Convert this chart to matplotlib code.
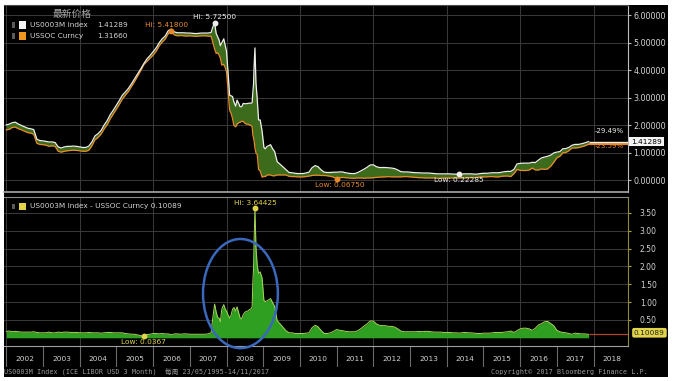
import numpy as np
import pandas as pd
import matplotlib
matplotlib.use("Agg")
import matplotlib.pyplot as plt
from matplotlib.patches import Rectangle, Ellipse
from matplotlib.transforms import blended_transform_factory

# ---------------- data ----------------
dates_a = pd.date_range("2002-01-01", "2007-07-01", freq="MS")
libor_a = [2.02, 2.05, 2.10, 2.12, 2.05, 2.00, 1.95, 1.90, 1.88, 1.85, 1.50, 1.45,
           1.44, 1.42, 1.40, 1.40, 1.38, 1.22, 1.18, 1.22, 1.24, 1.24, 1.25, 1.24,
           1.22, 1.20, 1.20, 1.25, 1.40, 1.62, 1.70, 1.82, 2.02, 2.18, 2.40, 2.56,
           2.74, 2.92, 3.10, 3.22, 3.35, 3.52, 3.70, 3.88, 4.06, 4.25, 4.42, 4.54,
           4.68, 4.82, 5.00, 5.15, 5.25, 5.45, 5.50, 5.40, 5.37, 5.37, 5.37, 5.36,
           5.36, 5.35, 5.34, 5.35, 5.36, 5.36, 5.36]
ois_a = [1.84, 1.86, 1.93, 1.94, 1.88, 1.84, 1.79, 1.74, 1.72, 1.68, 1.35, 1.31,
         1.30, 1.28, 1.24, 1.26, 1.24, 1.06, 1.03, 1.06, 1.08, 1.09, 1.10, 1.09,
         1.08, 1.06, 1.06, 1.10, 1.26, 1.48, 1.56, 1.69, 1.88, 2.03, 2.25, 2.42,
         2.60, 2.78, 2.96, 3.10, 3.24, 3.42, 3.60, 3.80, 4.00, 4.2133, 4.33, 4.44,
         4.56, 4.70, 4.89, 5.03, 5.14, 5.34, 5.418, 5.29, 5.26, 5.27, 5.26, 5.25,
         5.26, 5.25, 5.24, 5.25, 5.26, 5.26, 5.25]

dates_b = ["2007-08-01", "2007-08-15", "2007-09-05", "2007-09-20", "2007-10-05", "2007-10-20",
           "2007-11-01", "2007-11-15", "2007-12-05", "2007-12-20", "2008-01-01", "2008-01-15",
           "2008-02-01", "2008-02-15", "2008-03-01", "2008-03-15", "2008-04-01", "2008-04-15",
           "2008-05-01", "2008-05-15", "2008-06-01", "2008-06-15", "2008-07-01", "2008-07-15",
           "2008-08-01", "2008-08-15", "2008-09-01", "2008-09-12", "2008-09-19", "2008-09-26",
           "2008-10-01", "2008-10-10", "2008-10-20", "2008-11-01", "2008-11-15", "2008-12-01",
           "2008-12-20", "2009-01-08", "2009-01-22", "2009-02-08", "2009-02-22", "2009-03-15",
           "2009-04-05", "2009-04-25", "2009-05-20", "2009-06-15", "2009-07-15", "2009-08-15",
           "2009-09-15", "2009-10-15", "2009-11-15", "2009-12-15"]
libor_b = [5.38, 5.55, 5.725, 5.35, 5.22, 5.10, 4.90, 5.00, 5.15, 4.90, 4.70, 4.00,
           3.10, 3.08, 3.05, 2.85, 2.70, 2.92, 2.80, 2.68, 2.68, 2.80, 2.79, 2.79,
           2.80, 2.81, 2.81, 2.82, 3.20, 3.50, 4.10, 4.82, 3.55, 3.00, 2.20, 2.20,
           1.80, 1.20, 1.15, 1.24, 1.26, 1.30, 1.15, 1.05, 0.68, 0.60, 0.50, 0.40,
           0.29, 0.28, 0.26, 0.25]
ois_b = [5.24, 5.05, 4.78, 4.62, 4.65, 4.55, 4.45, 4.20, 4.22, 4.10, 3.95, 3.35,
         2.55, 2.45, 2.25, 2.00, 1.95, 2.05, 2.10, 2.12, 2.15, 2.15, 2.08, 2.05,
         2.05, 2.02, 2.00, 1.95, 1.65, 1.55, 1.45, 1.17575, 1.00, 0.95, 0.40, 0.35,
         0.12, 0.15, 0.14, 0.20, 0.20, 0.20, 0.17, 0.17, 0.20, 0.20, 0.20, 0.20,
         0.15, 0.14, 0.14, 0.13]

dates_c = list(pd.date_range("2010-01-01", "2017-10-01", freq="MS")) + [pd.Timestamp("2017-11-14")]
libor_c = [0.25, 0.25, 0.27, 0.30, 0.46, 0.54, 0.50, 0.38, 0.30, 0.29, 0.29, 0.30,
           0.30, 0.31, 0.31, 0.28, 0.26, 0.25, 0.25, 0.29, 0.35, 0.41, 0.48, 0.56,
           0.57, 0.50, 0.47, 0.47, 0.47, 0.46, 0.45, 0.43, 0.38, 0.32, 0.31, 0.31,
           0.30, 0.29, 0.28, 0.28, 0.27, 0.27, 0.27, 0.26, 0.25, 0.24, 0.24, 0.24,
           0.24, 0.24, 0.23, 0.23, 0.22285, 0.23, 0.24, 0.24, 0.24, 0.23, 0.23, 0.25,
           0.26, 0.26, 0.27, 0.28, 0.28, 0.28, 0.30, 0.32, 0.33, 0.33, 0.40, 0.60,
           0.62, 0.63, 0.63, 0.63, 0.66, 0.65, 0.74, 0.82, 0.85, 0.88, 0.92, 1.00,
           1.03, 1.05, 1.15, 1.16, 1.20, 1.28, 1.31, 1.31, 1.33, 1.36, 1.41289]
ois_c = [0.13, 0.13, 0.14, 0.16, 0.18, 0.19, 0.19, 0.18, 0.18, 0.17, 0.15, 0.12,
         0.0675, 0.10, 0.11, 0.10, 0.09, 0.08, 0.08, 0.09, 0.09, 0.08, 0.09, 0.09,
         0.10, 0.11, 0.12, 0.13, 0.13, 0.14, 0.13, 0.13, 0.13, 0.13, 0.14, 0.14,
         0.13, 0.12, 0.11, 0.10, 0.10, 0.09, 0.09, 0.09, 0.09, 0.08, 0.08, 0.09,
         0.09, 0.09, 0.09, 0.09, 0.09, 0.09, 0.09, 0.10, 0.10, 0.10, 0.11, 0.13,
         0.13, 0.13, 0.14, 0.14, 0.13, 0.13, 0.15, 0.16, 0.16, 0.14, 0.25, 0.40,
         0.37, 0.36, 0.36, 0.38, 0.45, 0.38, 0.38, 0.42, 0.40, 0.42, 0.52, 0.66,
         0.82, 0.88, 1.00, 1.02, 1.08, 1.18, 1.18, 1.19, 1.22, 1.25, 1.3166]

year_labels = list(range(2002, 2019))
top_ticks = [0, 1, 2, 3, 4, 5, 6]
bottom_ticks = [0.5, 1.0, 1.5, 2.0, 2.5, 3.0, 3.5]
legend_names = ["US0003M Index", "USSOC Curncy"]
legend_values = ["1.41289", "1.31660"]
spread_name = "US0003M Index - USSOC Curncy 0.10089"
spread_last = 0.10089
pct_changes = ["-29.49%", "-23.59%"]


def dec_year(dates):
    d = pd.to_datetime(pd.Series(list(dates)))
    return (d.dt.year + (d.dt.dayofyear - 1) / 365.25).to_numpy()


x = np.concatenate([dec_year(dates_a), dec_year(dates_b), dec_year(dates_c)])
libor = np.array(libor_a + libor_b + libor_c)
ois = np.array(ois_a + ois_b + ois_c)
spread = libor - ois

# ---------------- layout ----------------
W, H = 674, 381
def fx(p): return p / W
def fy(p): return 1 - p / H

XL = (2001.937, 2018.94)
C_WHITE = "#eeeeea"
C_ORANGE = "#e8892b"
C_YELLOW = "#e2d44a"
C_GRID = "#3a3a3a"
C_TXT = "#d4d4d4"

fig = plt.figure(figsize=(6.74, 3.81), dpi=100)
fig.patch.set_facecolor("white")
fig.add_artist(Rectangle((fx(4), fy(377)), fx(668) - fx(4), fy(5) - fy(377),
                         transform=fig.transFigure, facecolor="black",
                         edgecolor="none", zorder=-10))

ax1 = fig.add_axes([fx(4), fy(192), (628 - 4) / W, (192 - 5) / H])
ax2 = fig.add_axes([fx(4), fy(346), (628 - 4) / W, (346 - 197) / H])
ax3 = fig.add_axes([fx(4), fy(367), (628 - 4) / W, (367 - 347) / H])
ax2.set_zorder(2)
ax3.set_zorder(1)

for ax in (ax1, ax2, ax3):
    ax.set_facecolor("black")
    ax.set_xlim(*XL)
    for s in ax.spines.values():
        s.set_visible(False)

even_years = [y for y in year_labels if y % 2 == 0]

# ---- top panel ----
ax1.set_ylim(-0.42, 6.38)
ax1.fill_between(x, ois, libor, color="#3d6b1c", lw=0, zorder=2)
ax1.plot(x, ois, color=C_ORANGE, lw=0.9, zorder=3)
ax1.plot(x, libor, color=C_WHITE, lw=0.9, zorder=4)
ax1.set_yticks(top_ticks)
ax1.set_yticklabels([f"{v:.5f}" for v in top_ticks])
ax1.yaxis.tick_right()
ax1.tick_params(axis="y", length=2.5, width=0.8, color="#bbbbbb", pad=1.5,
                labelsize=5.8, labelcolor=C_TXT)
ax1.set_xticks(even_years)
ax1.tick_params(axis="x", length=0, labelbottom=False)
ax1.grid(True, color=C_GRID, lw=0.7, zorder=0)
ax1.spines["right"].set_visible(True)
ax1.spines["right"].set_color("#bdbdbd")
ax1.spines["bottom"].set_visible(True)
ax1.spines["bottom"].set_color("#a8a8a8")
ax1.spines["bottom"].set_linewidth(1.2)
ax1.spines["top"].set_visible(True)
ax1.spines["top"].set_color("#4a4a4a")

x_last = x[-1]
ax1.hlines(libor[-1], x_last, XL[1], color=C_WHITE, lw=1.0, zorder=4)
ax1.hlines(ois[-1], x_last, XL[1], color=C_ORANGE, lw=1.6, zorder=3)


def mark(ax, xv, yv, color, label, dx, dy):
    ax.plot([xv], [yv], "o", ms=3.2, color=color, zorder=8, clip_on=False)
    ax.annotate(label, (xv, yv), xytext=(dx, dy), textcoords="offset points",
                ha="center", va="center", color=color, fontsize=5.3, zorder=9,
                annotation_clip=False)


i = int(np.argmax(libor)); mark(ax1, x[i], libor[i], C_WHITE, f"Hi: {libor[i] + 1e-9:.5f}", 0, 4)
i = int(np.argmax(ois)); mark(ax1, x[i], ois[i], C_ORANGE, f"Hi: {ois[i] + 1e-9:.5f}", -3.5, 4.5)
i = int(np.argmin(libor)); mark(ax1, x[i], libor[i], C_WHITE, f"Low: {libor[i] + 1e-9:.5f}", 0, -4)
i = int(np.argmin(ois)); mark(ax1, x[i], ois[i], C_ORANGE, f"Low: {ois[i] + 1e-9:.5f}", 2, -4.5)

# percentage labels near the end
tr1 = blended_transform_factory(fig.transFigure, ax1.transData)
fig.text(fx(624), 1.80, pct_changes[0], transform=tr1, ha="right", va="center",
         color=C_WHITE, fontsize=5.0)
fig.text(fx(624), 1.25, pct_changes[1], transform=tr1, ha="right", va="center",
         color=C_ORANGE, fontsize=5.0)
fig.text(fx(631), libor[-1], legend_values[0], transform=tr1, ha="left", va="center",
         color="black", fontsize=5.3,
         bbox=dict(boxstyle="square,pad=0.25", facecolor="#f4f4f4", edgecolor="none"))

# ---- bottom panel ----
ax2.set_ylim(-0.23, 3.947)
ax2.fill_between(x, 0, spread, color="#2f9f22", lw=0, zorder=2)
ax2.plot(x, spread, color="#a9d45a", lw=0.7, zorder=3)
ax2.set_yticks(bottom_ticks)
ax2.set_yticklabels([f"{v:.2f}" for v in bottom_ticks])
ax2.yaxis.tick_right()
ax2.tick_params(axis="y", length=2.5, width=0.8, color="#b0a640", pad=6,
                labelsize=5.5, labelcolor=C_TXT)
ax2.set_xticks(even_years)
ax2.tick_params(axis="x", length=0, labelbottom=False)
ax2.grid(True, color=C_GRID, lw=0.7, zorder=0)
ax2.spines["right"].set_visible(True)
ax2.spines["right"].set_color("#8f8a3a")
ax2.spines["top"].set_visible(True)
ax2.spines["top"].set_color("#8a8a8a")
ax2.spines["bottom"].set_visible(True)
ax2.spines["bottom"].set_color("#a0a0a0")
ax2.hlines(spread_last, x_last, XL[1], color="#b0452a", lw=0.9, zorder=4)

i = int(np.argmax(spread)); mark(ax2, x[i], spread[i], C_YELLOW, f"Hi: {spread[i] + 1e-9:.5f}", 0, 3.8)
i = int(np.argmin(spread)); mark(ax2, x[i], spread[i], C_YELLOW, f"Low: {spread[i] + 1e-9:.4f}", 0, -4)

tr2 = blended_transform_factory(fig.transFigure, ax2.transData)
fig.text(fx(634), spread_last + 0.04, f"{spread_last:.5f}", transform=tr2, ha="left",
         va="center", color="#222222", fontsize=5.3,
         bbox=dict(boxstyle="round,pad=0.25", facecolor=C_YELLOW, edgecolor="none"))

ax2.add_patch(Ellipse((2008.38, 1.24), 2.04, 3.06, fill=False, edgecolor="#3a68bd",
                      lw=1.8, zorder=7, clip_on=False))

# ---- year row ----
ax3.set_ylim(0, 1)
ax3.set_xticks([])
ax3.set_yticks([])
for y in year_labels:
    ax3.axvline(y, color="#6a6a6a", lw=0.8)
    ax3.text(y + 0.5, 0.42, str(y), ha="center", va="center", color=C_TXT, fontsize=5.3)

# ---- legends ----
fig.text(fx(72), fy(14), "最新价格", ha="center", va="center", color="#a8a8a8",
         fontsize=7, family=["Noto Sans CJK SC", "DejaVu Sans"])
for k, (name, val, col) in enumerate(zip(legend_names, legend_values, ["#f4f4f4", "#f0961e"])):
    yc = 25 + 11 * k
    fig.add_artist(Rectangle((fx(12), fy(yc + 2.5)), 3 / W, 5 / H, transform=fig.transFigure,
                             facecolor="#5a5a5a", edgecolor="none"))
    fig.add_artist(Rectangle((fx(19), fy(yc + 3.5)), 7 / W, 7 / H, transform=fig.transFigure,
                             facecolor=col, edgecolor="none"))
    fig.text(fx(30), fy(yc), name, ha="left", va="center", color=C_TXT, fontsize=5.3)
    fig.text(fx(97), fy(yc), val, ha="left", va="center", color=C_TXT, fontsize=5.3)

yc = 206
fig.add_artist(Rectangle((fx(12), fy(yc + 2.5)), 3 / W, 5 / H, transform=fig.transFigure,
                         facecolor="#5a5a5a", edgecolor="none", zorder=5))
fig.add_artist(Rectangle((fx(19), fy(yc + 3.5)), 7 / W, 7 / H, transform=fig.transFigure,
                         facecolor=C_YELLOW, edgecolor="none", zorder=5))
fig.text(fx(30), fy(yc), spread_name, ha="left", va="center", color=C_TXT, fontsize=5.3,
         zorder=5)

# ---- footer ----
fig.text(fx(4), fy(372), "US0003M Index (ICE LIBOR USD 3 Month)  每周 23/05/1995-14/11/2017",
         ha="left", va="center", color="#9a9a9a", fontsize=4.9,
         family=["DejaVu Sans Mono", "Noto Sans CJK SC"])
fig.text(fx(648), fy(372), "Copyright© 2017 Bloomberg Finance L.P.", ha="right", va="center",
         color="#9a9a9a", fontsize=4.9, family=["DejaVu Sans Mono", "Noto Sans CJK SC"])

fig.savefig("out.png", dpi=100, facecolor=fig.get_facecolor())
